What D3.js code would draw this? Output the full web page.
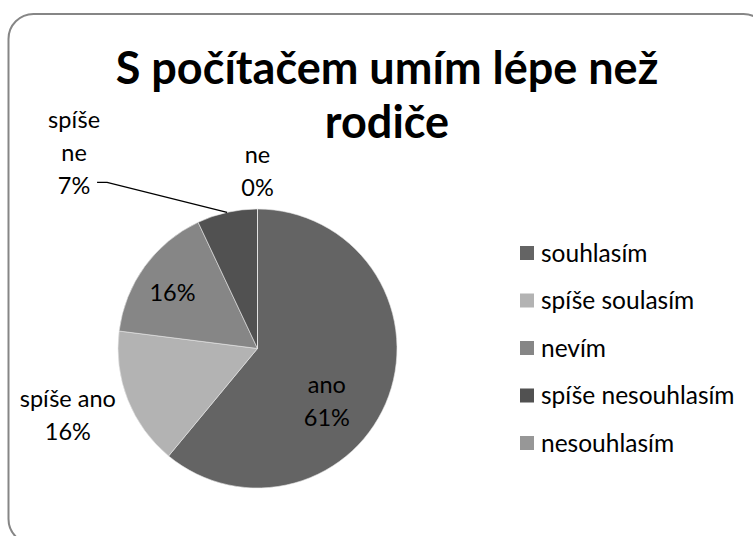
<!DOCTYPE html>
<html>
<head>
<meta charset="utf-8">
<script src="https://cdn.jsdelivr.net/npm/d3@7"></script>
<style>
  body { margin: 0; background: #fff; }
  text { font-family: Lato, "Open Sans", sans-serif; }
</style>
</head>
<body>
<div id="chart"></div>
<script>
// data
const categories = ['souhlasím', 'spíše soulasím', 'nevím', 'spíše nesouhlasím', 'nesouhlasím'];
const shortNames = ['ano', 'spíše ano', '', 'spíše ne', 'ne'];
const values = [61, 16, 16, 7, 0];
const sliceColors = ['#646464', '#b3b3b3', '#868686', '#515151', '#979797'];
const titleLines = ['S počítačem umím lépe než', 'rodiče'];

const width = 753, height = 536;
const cx = 257.5, cy = 348.5, radius = 139.5;

const svg = d3.select('#chart')
  .append('svg')
  .attr('width', width)
  .attr('height', height);

// chart frame, runs off the right and bottom edge
svg.append('rect')
  .attr('x', 8.5).attr('y', 14)
  .attr('width', 760).attr('height', 530)
  .attr('rx', 25).attr('ry', 25)
  .style('fill', 'none')
  .style('stroke', '#868686')
  .style('stroke-width', 2);

// title
svg.append('g').selectAll('text')
  .data(titleLines)
  .join('text')
  .attr('x', 387)
  .attr('y', (d, i) => 84 + i * 54)
  .attr('text-anchor', 'middle')
  .style('font-size', '45px')
  .style('font-weight', 'bold')
  .text(d => d);

const data = categories.map((c, i) => ({ name: c, short: shortNames[i], value: values[i], color: sliceColors[i] }));

const pie = d3.pie().sort(null).value(d => d.value);
const arcs = pie(data);
const arc = d3.arc().innerRadius(0).outerRadius(radius);

const g = svg.append('g').attr('transform', `translate(${cx},${cy})`);

g.selectAll('path')
  .data(arcs)
  .join('path')
  .attr('d', arc)
  .style('fill', d => d.data.color)
  .style('stroke', '#e8e8e8')
  .style('stroke-width', 0.6);

// label placement: fraction of radius along the slice mid angle, plus a nudge
// split: break the category name into one word per row
const labelLayout = [
  { k: 0.62, dx: -12, dy: 24, split: false },  // ano
  { k: 1.0, dx: -60, dy: 16, split: false },    // spíše ano
  { k: 0.70, dx: -6, dy: 2, split: false },     // nevím
  { k: 1.0, dx: -153, dy: -59, split: true },   // spíše ne
  { k: 1.0, dx: 0, dy: -38, split: false }      // ne
];

const midPoint = (d, k) => {
  const a = (d.startAngle + d.endAngle) / 2;
  return [Math.sin(a) * radius * k, -Math.cos(a) * radius * k];
};

const fmt = v => Math.round(v / d3.sum(values) * 100) + '%';
const lh = 33;

arcs.forEach((d, i) => {
  const lay = labelLayout[i];
  const p = midPoint(d, lay.k);
  const x = p[0] + lay.dx, y = p[1] + lay.dy;
  let lines = [];
  if (d.data.short) lines = lay.split ? d.data.short.split(' ') : [d.data.short];
  lines.push(fmt(d.data.value));
  const t = g.append('text')
    .attr('text-anchor', 'middle')
    .style('font-size', '23.5px')
    .style('fill', '#000');
  lines.forEach((l, j) => {
    t.append('tspan')
      .attr('x', x)
      .attr('y', y + (j - (lines.length - 1) / 2) * lh + 8)
      .text(l);
  });
});

// leader line for "spíše ne"
{
  const d = arcs[3];
  const e = midPoint(d, 1.0);
  const lay = labelLayout[3];
  const lx = e[0] + lay.dx;
  const ly = e[1] + lay.dy + lh;
  g.append('path')
    .attr('d', d3.line()([e, [lx + 33, ly - 4], [lx + 23, ly - 4]]))
    .style('fill', 'none')
    .style('stroke', '#000')
    .style('stroke-width', 1.3);
}

// legend
const legend = svg.append('g').attr('transform', 'translate(520,0)');
const rows = legend.selectAll('g')
  .data(data)
  .join('g')
  .attr('transform', (d, i) => `translate(0,${253 + i * 47.5})`);

rows.append('rect')
  .attr('x', 0).attr('y', -7)
  .attr('width', 14).attr('height', 14)
  .style('fill', d => d.color);

rows.append('text')
  .attr('x', 21)
  .attr('y', 8.5)
  .style('font-size', '24.5px')
  .text(d => d.name);
</script>
</body>
</html>
